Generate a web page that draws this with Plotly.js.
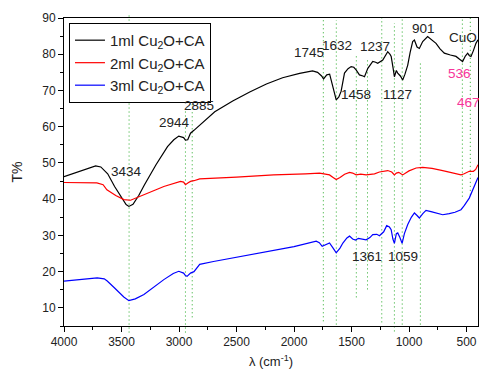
<!DOCTYPE html>
<html><head><meta charset="utf-8">
<script src="https://cdn.plot.ly/plotly-3.0.1.min.js"></script>
<style>html,body{margin:0;padding:0;background:#fff}#c{width:479px;height:374px}</style>
</head><body><div id="c"></div>
<script>
// Wavenumber (cm-1) and transmittance (%) readings
const blackX = [4000,3900,3800,3725,3680,3620,3560,3500,3460,3436,3400,3350,3300,3200,3100,3045,3002,2960,2944,2924,2900,2870,2845,2776,2689,2533,2385,2240,2099,1951,1839,1795,1760,1743,1715,1690,1660,1633,1610,1590,1561,1530,1503,1480,1460,1431,1400,1387,1358,1315,1290,1272,1228,1185,1165,1155,1140,1127,1110,1098,1075,1055,1035,1011,990,968,953,930,910,881,838,800,765,730,693,640,591,560,534,510,490,475,461,440,418,400];
const blackY = [46.2,47.3,48.4,49.2,48.9,47.0,43.5,40.5,38.5,38.0,38.6,41.0,44.0,49.5,54.5,56.4,57.4,57.0,56.3,56.4,58.2,59.0,59.7,61.9,64.1,67.1,69.6,71.8,73.5,74.7,75.4,75.0,74.0,73.2,74.3,74.5,71.0,67.4,68.2,69.8,74.8,76.0,76.6,76.4,75.7,74.3,74.0,73.8,76.1,78.0,77.8,77.5,78.4,80.7,80.0,79.4,76.5,73.8,75.5,74.8,74.0,72.9,74.5,77.0,80.5,83.5,83.9,82.0,81.6,83.5,84.9,84.0,83.0,81.5,80.3,79.8,79.4,78.6,78.0,79.5,80.3,79.6,79.4,81.0,83.0,84.0];

const redX = [4000,3900,3800,3714,3660,3627,3550,3479,3421,3380,3305,3200,3132,3050,2987,2960,2944,2920,2900,2870,2850,2820,2500,2177,1900,1778,1740,1691,1660,1633,1600,1560,1517,1490,1460,1420,1373,1300,1257,1185,1150,1127,1110,1089,1070,1055,1000,938,881,800,707,620,548,520,476,440,420,400];
const redY = [44.6,44.6,44.5,44.5,44.0,42.6,41.0,39.9,39.7,40.2,41.2,42.6,43.5,44.4,44.9,44.7,44.0,44.5,44.9,45.1,45.3,45.6,46.1,46.7,47.0,47.2,47.0,46.7,46.0,45.4,46.0,46.9,47.4,47.2,46.7,46.9,46.7,47.0,47.5,47.9,47.5,46.7,47.2,47.4,47.0,46.7,47.8,48.6,48.8,48.5,47.9,47.3,46.7,47.0,47.7,47.7,48.2,49.5];

const blueX = [4000,3850,3711,3650,3624,3560,3480,3436,3380,3305,3200,3132,3050,3002,2960,2944,2930,2900,2870,2843,2820,2700,2500,2212,2000,1807,1780,1755,1720,1691,1660,1633,1600,1575,1540,1517,1490,1465,1440,1410,1373,1340,1315,1280,1257,1220,1194,1170,1155,1140,1127,1110,1098,1080,1060,1040,1011,980,953,930,910,880,852,800,707,650,600,548,520,476,440,400];
const blueY = [17.4,17.9,18.3,18.0,17.4,15.5,13.0,12.0,12.5,13.7,16.3,17.8,19.5,20.1,19.6,18.9,18.7,19.6,20.0,21.0,22.0,22.8,24.0,25.6,26.9,28.4,28.0,27.0,27.5,27.9,26.5,25.2,26.5,27.9,29.3,29.8,29.0,28.7,29.2,29.0,28.8,29.4,30.2,30.3,29.9,31.0,32.7,32.3,31.6,29.0,27.8,30.5,30.7,29.5,27.8,30.5,33.0,35.0,36.2,35.5,34.8,36.0,36.9,36.5,35.7,36.0,36.4,37.1,38.2,40.3,42.8,46.0];

const seriesNames = ['1ml Cu<sub>2</sub>O+CA','2ml Cu<sub>2</sub>O+CA','3ml Cu<sub>2</sub>O+CA'];

// Peak markers: wavenumber and vertical extent of the dotted guide (T%)
const peakX   = [3434, 2944, 2885, 1745, 1632, 1458, 1361, 1237, 1127, 1059, 901, 536, 467];
const peakTop = [91, 64.7, 75.7, 90, 89.4, 79.8, 78.4, 90, 88.6, 90, 78, 90, 90];
const peakBot = [3.2, 3.2, 7.4, 6.3, 5.4, 12.9, 15.1, 6.0, 3.5, 5.4, 5.4, 40.7, 41.2];

// Peak labels
const labelText = ['3434','2944','2885','1745','1632','1237','901','CuO','536','467','1458','1127','1361','1059'];
const labelX    = [3460, 3037, 2828, 1873, 1622, 1292, 875, 528, 563, 484, 1457, 1101, 1361, 1049];
const labelY    = [47.6, 61.1, 65.8, 80.4, 82.3, 82.0, 87.2, 84.5, 74.8, 66.6, 68.8, 68.8, 24.2, 24.2];
const labelPink = ['536','467'];

const yMin = 5, yMax = 90;
const toPaper = v => (v - yMin) / (yMax - yMin);

const traces = [
  {x: blackX, y: blackY, name: seriesNames[0], mode: 'lines', line: {color: '#000000', width: 1.2}},
  {x: redX, y: redY, name: seriesNames[1], mode: 'lines', line: {color: '#ff0000', width: 1.2}},
  {x: blueX, y: blueY, name: seriesNames[2], mode: 'lines', line: {color: '#0000ff', width: 1.2}}
];

const shapes = peakX.map((p, i) => ({
  type: 'line', xref: 'x', yref: 'paper', x0: p, x1: p,
  y0: toPaper(peakBot[i]), y1: toPaper(peakTop[i]),
  line: {color: '#22a822', width: 1, dash: '1px,3px'}, layer: 'below'
}));

const annotations = labelText.map((t, i) => ({
  x: labelX[i], y: labelY[i], xref: 'x', yref: 'y', text: t, showarrow: false,
  font: {size: 13.5, color: labelPink.includes(t) ? '#f7359a' : '#222222'}
}));

const font = {family: 'Liberation Sans, Arial, sans-serif', size: 12, color: '#222'};

const layout = {
  width: 479, height: 374,
  margin: {l: 64, r: 1, t: 18, b: 48},
  paper_bgcolor: '#fff', plot_bgcolor: '#fff',
  font: font,
  showlegend: true,
  legend: {x: 0.012, y: 0.984, xanchor: 'left', yanchor: 'top', bgcolor: '#fff',
           bordercolor: '#000', borderwidth: 1, font: {size: 15, color: '#222'}},
  xaxis: {range: [4000, 400], tickvals: [4000,3500,3000,2500,2000,1500,1000,500],
          ticks: 'outside', ticklen: 5, tickwidth: 1, tickcolor: '#000',
          minor: {dtick: 250, ticks: 'outside', ticklen: 3, tickcolor: '#000'},
          showline: true, linecolor: '#000', linewidth: 1, mirror: true,
          showgrid: false, zeroline: false,
          title: {text: 'λ (cm<sup>-1</sup>)', font: {size: 13}, standoff: 8}},
  yaxis: {range: [yMin, yMax], tickvals: [10,20,30,40,50,60,70,80,90],
          ticks: 'outside', ticklen: 5, tickwidth: 1, tickcolor: '#000',
          minor: {dtick: 5, ticks: 'outside', ticklen: 3, tickcolor: '#000'},
          showline: true, linecolor: '#000', linewidth: 1, mirror: true,
          showgrid: false, zeroline: false,
          title: {text: 'T%', font: {size: 14}, standoff: 16}},
  shapes: shapes,
  annotations: annotations
};

Plotly.newPlot('c', traces, layout, {displayModeBar: false, staticPlot: true});
</script>
</body></html>
